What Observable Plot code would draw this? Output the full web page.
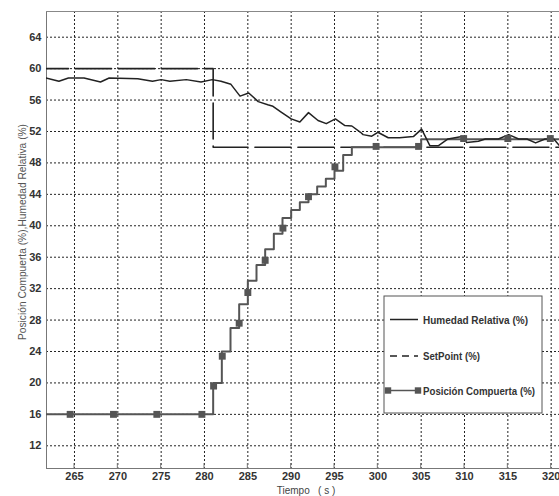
<!DOCTYPE html>
<html>
<head>
<meta charset="utf-8">
<script src="https://cdn.jsdelivr.net/npm/d3@7"></script>
<script src="https://cdn.jsdelivr.net/npm/@observablehq/plot@0.6"></script>
<style>
  html, body { margin: 0; padding: 0; background: #fff; }
</style>
</head>
<body>
<div id="chart"></div>
<script>
// ---- Data ----
const xDomain = [261.77, 320.96];
const yDomain = [9.11, 67.27];
const xTicks = [265, 270, 275, 280, 285, 290, 295, 300, 305, 310, 315, 320];
const yTicks = [12, 16, 20, 24, 28, 32, 36, 40, 44, 48, 52, 56, 60, 64];

// Humedad Relativa (%)
const humT = [261.7, 263.2, 264.3, 266.1, 268.0, 269.0, 272.3, 274.0, 275.0, 276.0, 277.9, 279.6, 280.9, 281.9, 283.05, 284.1, 285.1, 286.2, 287.3, 287.9, 288.8, 290.0, 291.0, 292.0, 293.1, 294.05, 295.1, 296.2, 297.0, 298.0, 298.3, 299.3, 300.0, 301.2, 302.5, 304.1, 305.05, 306.0, 307.0, 308.1, 309.7, 310.25, 311.6, 312.4, 313.9, 315.1, 316.25, 317.2, 318.2, 319.3, 320.3, 321.1];
const humV = [58.8, 58.4, 58.8, 58.8, 58.3, 58.8, 58.7, 58.4, 58.6, 58.4, 58.6, 58.3, 58.6, 58.4, 58.0, 56.5, 56.9, 55.8, 55.4, 55.2, 54.5, 53.6, 53.2, 54.4, 53.4, 53.0, 53.6, 52.75, 52.7, 51.9, 51.6, 51.4, 51.9, 51.2, 51.2, 51.35, 52.3, 50.2, 50.2, 51.05, 51.35, 50.6, 50.75, 51.05, 51.05, 51.6, 51.05, 51.05, 50.55, 51.05, 51.05, 50.0];

// SetPoint (%)
const spT = [261.77, 281, 281, 321];
const spV = [60, 60, 50, 50];

// Posición Compuerta (%) - stairs
const posT = [261.77, 281, 282, 283, 284, 285, 286, 287, 288, 289, 290, 291, 292, 293, 294, 295, 296, 297, 305, 321];
const posV = [16, 20, 24, 27, 30, 33, 35, 37, 39, 41, 42, 43, 44, 45, 46, 47, 49, 50, 51, 51];
// Posición Compuerta markers
const mkT = [264.5, 269.5, 274.5, 279.7, 281.05, 282.05, 284.0, 285.0, 287.0, 289.05, 292.0, 295.05, 299.8, 304.7, 309.9, 315.0, 319.9];
const mkV = [16, 16, 16, 16, 19.6, 23.4, 27.6, 31.5, 35.6, 39.7, 43.7, 47.5, 50.1, 50.1, 51.1, 51.1, 51.1];

const seriesNames = ["Humedad Relativa (%)", "SetPoint (%)", "Posición Compuerta (%)"];
const yLabel = "Posición Compuerta (%),Humedad Relativa (%)";
const xLabel = "Tiempo   ( s )";

const hum = humT.map((t, i) => ({t, v: humV[i]}));
const sp = spT.map((t, i) => ({t, v: spV[i]}));
const pos = posT.map((t, i) => ({t, v: posV[i]}));
const mk = mkT.map((t, i) => ({t, v: mkV[i]}));

const W = 559, H = 496;
const mL = 46, mT = 11, mB = 28, mR = 0;

const chart = Plot.plot({
  width: W,
  height: H,
  marginLeft: mL,
  marginTop: mT,
  marginBottom: mB,
  marginRight: mR,
  style: {fontFamily: "Liberation Sans, Arial, sans-serif", background: "#fff", overflow: "visible"},
  x: {type: "linear", domain: xDomain, label: null},
  y: {type: "linear", domain: yDomain, label: null},
  marks: [
    Plot.gridX(xTicks, {stroke: "#222", strokeOpacity: 1, strokeDasharray: "2,2", strokeWidth: 1}),
    Plot.gridY(yTicks, {stroke: "#222", strokeOpacity: 1, strokeDasharray: "2,2", strokeWidth: 1}),
    Plot.ruleX([xDomain[0]], {stroke: "#777", strokeWidth: 1}),
    Plot.ruleY([yDomain[0]], {stroke: "#777", strokeWidth: 1}),
    Plot.ruleY([yDomain[1]], {stroke: "#888", strokeWidth: 1}),
    Plot.axisX(xTicks, {tickSize: 0, tickPadding: 4, fontSize: 11, fontWeight: "bold", fill: "#333", label: null}),
    Plot.axisY(yTicks, {tickSize: 0, tickPadding: 5, fontSize: 11, fontWeight: "bold", fill: "#333", label: null}),
    Plot.line(sp, {x: "t", y: "v", stroke: "#222", strokeWidth: 1.6, strokeDasharray: "36,7", strokeDashoffset: 14, clip: true}),
    Plot.line(pos, {x: "t", y: "v", stroke: "#555", strokeWidth: 2, curve: "step-after", clip: true}),
    Plot.line(hum, {x: "t", y: "v", stroke: "#222", strokeWidth: 1.5, clip: true}),
    Plot.dot(mk, {x: "t", y: "v", symbol: "square", r: 3.9, fill: "#555", stroke: "none", clip: true})
  ]
});

document.getElementById("chart").appendChild(chart);

const svg = d3.select(chart);
const xs = chart.scale("x"), ys = chart.scale("y");
const gTicks = svg.append("g");
xTicks.forEach(t => {
  const px = xs.apply(t), py = ys.apply(yDomain[0]);
  gTicks.append("line").attr("x1", px).attr("x2", px).attr("y1", py).attr("y2", py - 5)
    .attr("stroke", "#777").attr("stroke-width", 1);
});

// Axis labels
svg.append("text")
  .attr("transform", `translate(26, 232) rotate(-90)`)
  .attr("text-anchor", "middle")
  .attr("font-size", 10.5)
  .attr("fill", "#555")
  .attr("textLength", 216)
  .attr("lengthAdjust", "spacingAndGlyphs")
  .text(yLabel);

svg.append("text")
  .attr("x", 306)
  .attr("y", 494)
  .attr("text-anchor", "middle")
  .attr("font-size", 10)
  .attr("fill", "#444")
  .attr("xml:space", "preserve")
  .style("white-space", "pre")
  .text(xLabel);

// Legend
const lg = svg.append("g").attr("transform", "translate(384,296)");
lg.append("rect").attr("x", 0).attr("y", 0).attr("width", 158).attr("height", 117)
  .attr("fill", "#fff").attr("stroke", "#555").attr("stroke-width", 1);
const rowsY = [23.5, 60, 94.5];
const textLens = [105, 57, 112];
const styles = [
  {stroke: "#222", dash: null, w: 1.5, marker: false},
  {stroke: "#222", dash: "7,5", w: 1.5, marker: false},
  {stroke: "#555", dash: null, w: 1.5, marker: true}
];
seriesNames.forEach((name, i) => {
  const y = rowsY[i], s = styles[i];
  const ln = lg.append("line").attr("x1", 6).attr("x2", 34).attr("y1", y).attr("y2", y)
    .attr("stroke", s.stroke).attr("stroke-width", s.w);
  if (s.dash) ln.attr("stroke-dasharray", s.dash);
  if (s.marker) {
    [4, 34].forEach(cx => lg.append("rect").attr("x", cx - 3.2).attr("y", y - 3.2)
      .attr("width", 6.4).attr("height", 6.4).attr("fill", "#555"));
  }
  lg.append("text").attr("x", 39).attr("y", y + 4).attr("font-size", 11)
    .attr("text-anchor", "start")
    .attr("textLength", textLens[i]).attr("lengthAdjust", "spacingAndGlyphs")
    .attr("font-weight", "bold").attr("fill", "#333").text(name);
});
</script>
</body>
</html>
